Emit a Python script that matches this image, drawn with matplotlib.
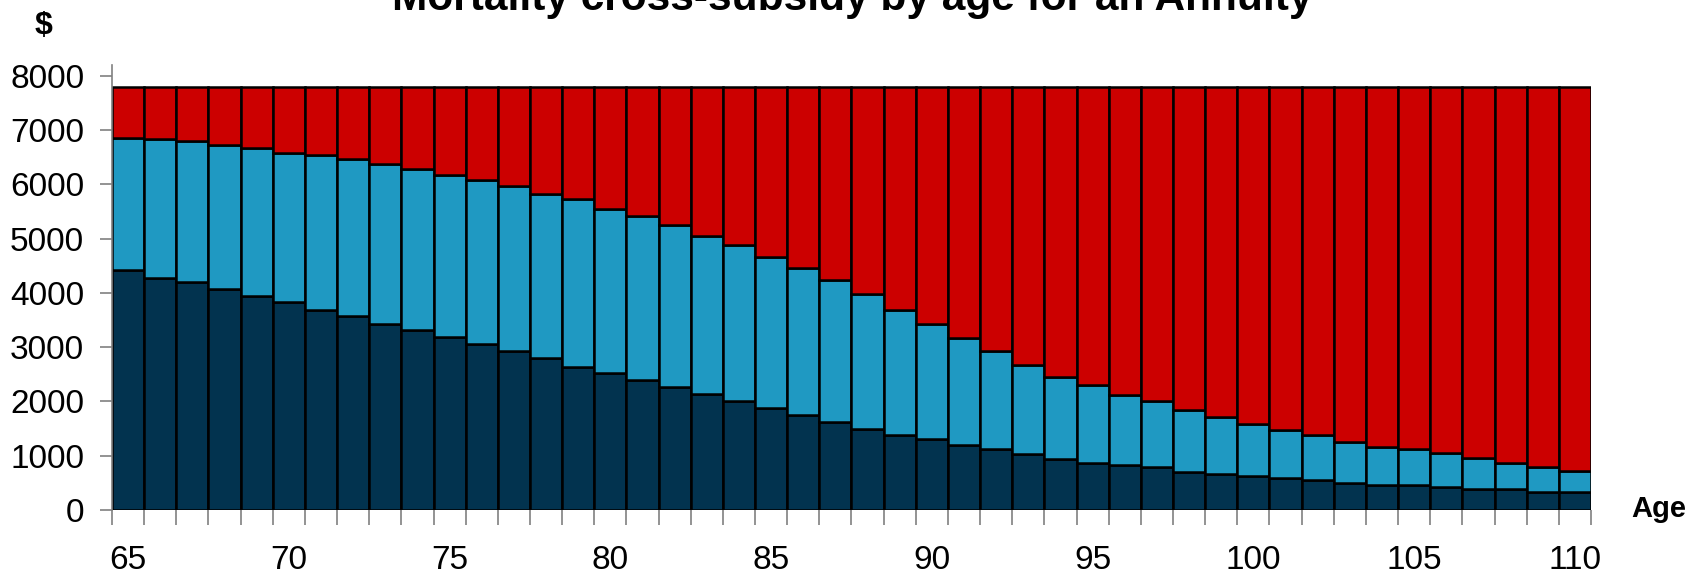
import matplotlib.pyplot as plt
import numpy as np

plt.rcParams['font.family'] = ['Liberation Sans', 'DejaVu Sans']

# ages 65..110, one bar each
ages = list(range(65, 111))

# top of the dark (bottom) segment, $
dark_top = [4420, 4285, 4205, 4075, 3950, 3825, 3695, 3570, 3435, 3310,
            3185, 3065, 2925, 2800, 2640, 2520, 2390, 2265, 2135, 2010,
            1880, 1755, 1630, 1500, 1380, 1305, 1205, 1125, 1035, 945,
            865, 825, 790, 705, 665, 625, 590, 550, 495, 460,
            460, 420, 380, 380, 325, 325]

# top of the light blue (middle) segment, $
light_top = [6860, 6845, 6810, 6730, 6680, 6580, 6550, 6470, 6385, 6290,
             6175, 6080, 5965, 5830, 5730, 5555, 5425, 5260, 5045, 4875,
             4670, 4460, 4245, 3985, 3690, 3430, 3175, 2930, 2670, 2460,
             2300, 2115, 2005, 1840, 1720, 1590, 1475, 1380, 1260, 1165,
             1125, 1050, 955, 875, 785, 720]

# full annuity payment, same each year
total = [7800] * len(ages)

label_ages = [65, 70, 75, 80, 85, 90, 95, 100, 105, 110]
yticks = [0, 1000, 2000, 3000, 4000, 5000, 6000, 7000, 8000]

c_dark = '#02334F'
c_light = '#1F99C2'
c_red = '#CC0000'

x = np.array(ages)
d = np.array(dark_top)
l = np.array(light_top)
t = np.array(total)

fig = plt.figure(figsize=(16.92, 5.76), dpi=100)
ax = fig.add_axes([0.0662, 0.1146, 0.8741, 0.7724])

ax.bar(x, d, width=1.0, color=c_dark, edgecolor='black', linewidth=1.8)
ax.bar(x, l - d, bottom=d, width=1.0, color=c_light, edgecolor='black', linewidth=1.8)
ax.bar(x, t - l, bottom=l, width=1.0, color=c_red, edgecolor='black', linewidth=1.8)

ax.set_xlim(64.5, 110.5)
ax.set_ylim(0, 8200)

ax.set_yticks(yticks)
ax.set_xticks(label_ages)
ax.set_xticks(np.arange(64.5, 111, 1.0), minor=True)
ax.tick_params(axis='y', length=9, width=1.2, color='#808080', labelsize=24, pad=11)
ax.tick_params(axis='x', which='major', length=0, labelsize=24, pad=25.5)
ax.tick_params(axis='x', which='minor', length=11, width=1.2, color='#808080')

for s in ['top', 'right', 'bottom']:
    ax.spines[s].set_visible(False)
ax.spines['left'].set_color('#808080')
ax.spines['left'].set_linewidth(1.2)

# title sits partly above the top edge, as in the source image
fig.text(0.5035, 1 - 10 / 576, 'Mortality cross-subsidy by age for an Annuity',
         ha='center', va='baseline', fontsize=30.5, fontweight='bold')
fig.text(44 / 1692, 1 - 26 / 576, '$', ha='center', va='center', fontsize=23, fontweight='bold')
fig.text(1631 / 1692, 1 - 509 / 576, 'Age', ha='left', va='center', fontsize=21, fontweight='bold')

fig.savefig('out.png', dpi=100)
